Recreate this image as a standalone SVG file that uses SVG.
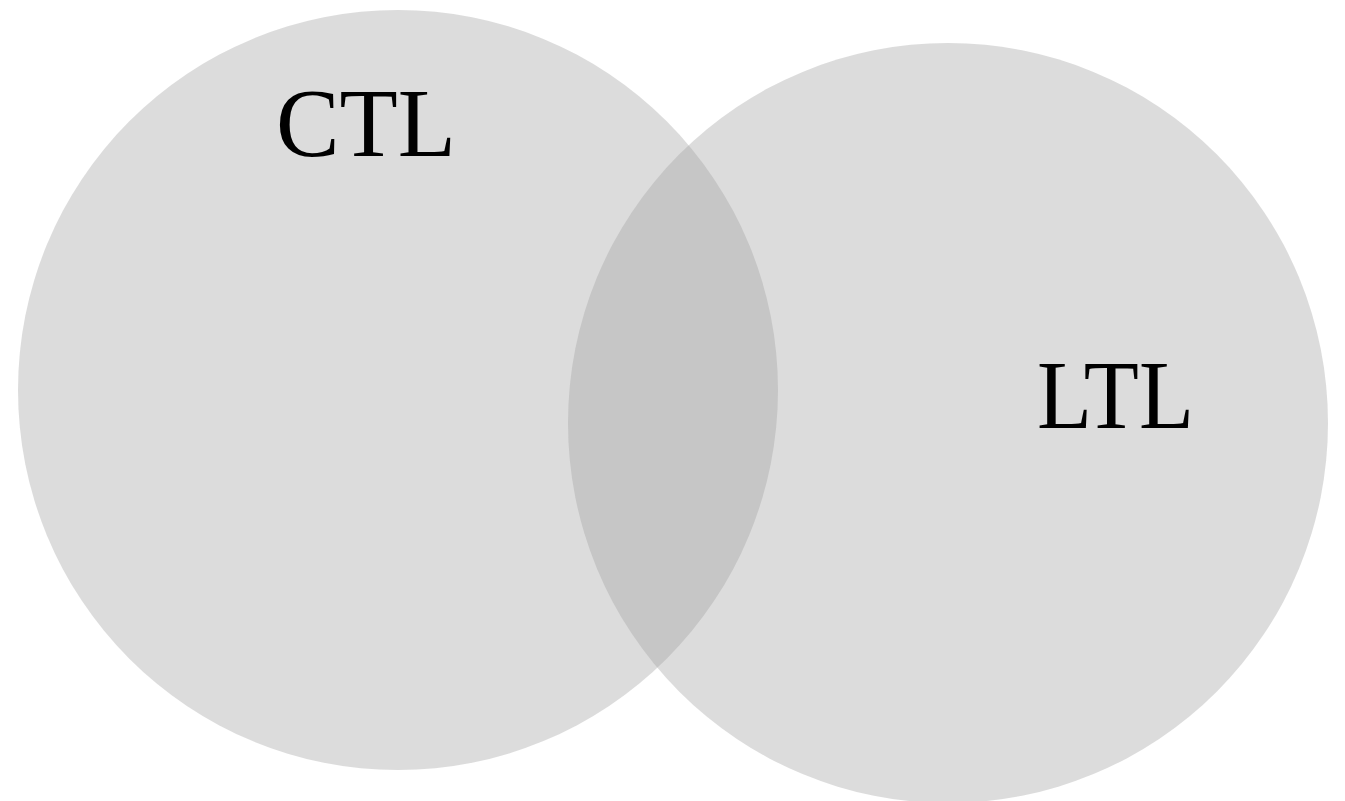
<svg xmlns="http://www.w3.org/2000/svg" width="1345" height="801" viewBox="0 0 1345 801">
  <style>
    .set { fill: #a1a1a1; fill-opacity: 0.37; }
    .label { font-family: "Liberation Serif", "DejaVu Serif", serif; font-size: 97px; fill: #000; }
  </style>
  <rect width="1345" height="801" fill="#ffffff"/>
  <g id="ctl">
    <circle class="set" cx="398" cy="390" r="380"/>
    <text class="label" x="276" y="156" textLength="180" lengthAdjust="spacingAndGlyphs">CTL</text>
  </g>
  <g id="ltl">
    <circle class="set" cx="948" cy="423" r="380"/>
    <text class="label" x="1037" y="428" textLength="157" lengthAdjust="spacingAndGlyphs">LTL</text>
  </g>
  <g id="connectors"/>
</svg>
